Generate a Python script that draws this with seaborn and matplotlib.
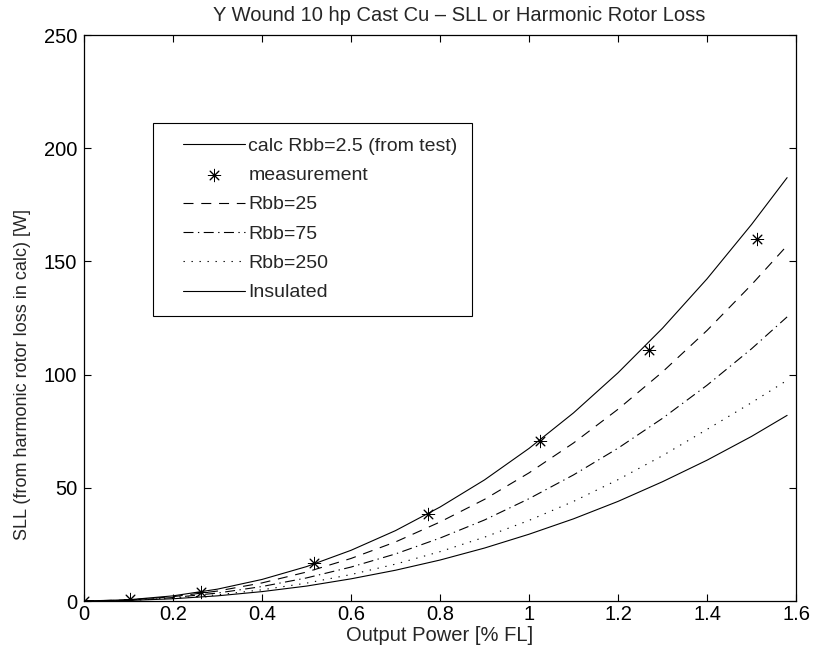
import numpy as np
import pandas as pd
import matplotlib
matplotlib.use("Agg")
import matplotlib.pyplot as plt
from matplotlib.legend_handler import HandlerLine2D, HandlerPathCollection
from matplotlib.collections import PathCollection
from matplotlib.lines import Line2D
import seaborn as sns

# Output power [% FL] at which the calculated curves are tabulated
power = [0.0, 0.1, 0.2, 0.3, 0.4, 0.5, 0.6, 0.7, 0.8, 0.9, 1.0,
         1.1, 1.2, 1.3, 1.4, 1.5, 1.58]

# Calculated SLL / harmonic rotor loss [W]
calc_rbb_2_5 = [0, 0.56, 2.28, 5.25, 9.53, 15.2, 22.4, 31.1, 41.5, 53.5, 67.4,
                83.1, 100.8, 120.5, 142.3, 166.3, 187.0]
rbb_25 = [0, 0.47, 1.92, 4.41, 8.0, 12.8, 18.8, 26.1, 34.9, 44.9, 56.6,
          69.8, 84.7, 101.2, 119.5, 139.7, 157.0]
rbb_75 = [0, 0.38, 1.53, 3.52, 6.4, 10.2, 15.0, 20.8, 27.8, 35.8, 45.2,
          55.7, 67.5, 80.7, 95.3, 111.4, 125.5]
rbb_250 = [0, 0.29, 1.19, 2.73, 4.96, 7.9, 11.7, 16.3, 21.8, 28.2, 35.6,
           44.0, 53.6, 64.2, 75.8, 87.6, 97.5]
insulated = [0, 0.24, 1.0, 2.29, 4.16, 6.6, 9.8, 13.6, 18.1, 23.4, 29.5,
             36.3, 44.0, 52.7, 62.2, 72.7, 82.0]

# Measured points
meas_power = [0.0, 0.103, 0.263, 0.517, 0.773, 1.025, 1.27, 1.512]
meas_sll = [0.0, 0.8, 3.8, 16.8, 38.5, 70.5, 111.0, 160.0]

x_ticks = [0, 0.2, 0.4, 0.6, 0.8, 1.0, 1.2, 1.4, 1.6]
x_tick_labels = ["0", "0.2", "0.4", "0.6", "0.8", "1", "1.2", "1.4", "1.6"]
y_ticks = [0, 50, 100, 150, 200, 250]

sns.set_theme(style="ticks")
plt.rcParams["font.family"] = ["Liberation Sans", "DejaVu Sans"]

fig = plt.figure(figsize=(8.14, 6.57), dpi=100)
ax = fig.add_axes([0.1032, 0.0852, 0.8747, 0.8615])

lw = 0.8
sns.lineplot(x=power, y=calc_rbb_2_5, ax=ax, color="black", lw=lw,
             label="calc Rbb=2.5 (from test)")
sns.scatterplot(x=meas_power, y=meas_sll, ax=ax, color="black",
                marker=(8, 2, 0), s=80, linewidth=0.7, edgecolor="black",
                label="measurement", zorder=5)
sns.lineplot(x=power, y=rbb_25, ax=ax, color="black", lw=lw,
             linestyle=(0, (9, 7)), label="Rbb=25")
sns.lineplot(x=power, y=rbb_75, ax=ax, color="black", lw=lw,
             linestyle=(0, (9, 4, 1.2, 4)), label="Rbb=75")
sns.lineplot(x=power, y=rbb_250, ax=ax, color="black", lw=lw,
             linestyle=(0, (1.2, 6)), label="Rbb=250")
sns.lineplot(x=power, y=insulated, ax=ax, color="black", lw=lw,
             label="Insulated")

ax.set_xlim(0, 1.6)
ax.set_ylim(0, 250)
ax.set_xticks(x_ticks)
ax.set_xticklabels(x_tick_labels)
ax.set_yticks(y_ticks)
ax.tick_params(direction="in", length=5, width=0.8, top=True, right=True,
               labelsize=14.5, colors="black")
ax.tick_params(axis="x", pad=3)
ax.tick_params(axis="y", pad=5)
for side in ax.spines.values():
    side.set_visible(True)
    side.set_color("black")
    side.set_linewidth(0.9)

ax.set_xlabel("Output Power [% FL]", fontsize=14.5, labelpad=1)
ax.set_ylabel("SLL (from harmonic rotor loss in calc) [W]", fontsize=13)
ax.yaxis.set_label_coords(-0.075, 0.40)
ax.set_title("Y Wound 10 hp Cast Cu \u2013 SLL or Harmonic Rotor Loss",
             fontsize=14.5, pad=10, x=0.527)

# Legend handles inset from the frame's left edge
fs_legend = 14
handler_map = {
    Line2D: HandlerLine2D(xpad=0.77),
    PathCollection: HandlerPathCollection(xpad=0.77),
}
leg = ax.legend(loc="upper left", bbox_to_anchor=(0.097, 0.845),
                borderaxespad=0, fontsize=fs_legend, frameon=True,
                fancybox=False, framealpha=1, edgecolor="black",
                handlelength=4.0, labelspacing=0.6, borderpad=0.75,
                handletextpad=0.15, handler_map=handler_map)
leg.get_frame().set_linewidth(0.8)

fig.savefig("out.png", dpi=100)
